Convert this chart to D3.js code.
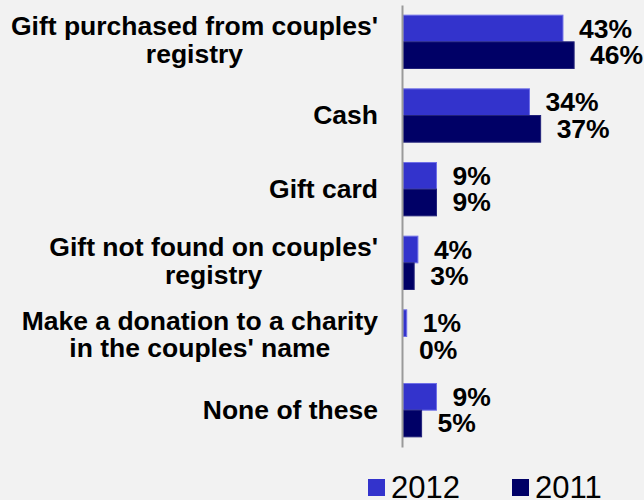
<!DOCTYPE html>
<html>
<head>
<meta charset="utf-8">
<script src="https://cdn.jsdelivr.net/npm/d3@7"></script>
<style>
  html, body { margin: 0; padding: 0; background: #f2f2f2; }
  svg { display: block; }
  text { font-family: Arial, "Liberation Sans", sans-serif; fill: #000; }
</style>
</head>
<body>
<svg id="chart" width="644" height="500"></svg>
<script>
// Gift types, each label split into its display lines
const categories = [
  ["Gift purchased from couples'", "registry"],
  ["Cash"],
  ["Gift card"],
  ["Gift not found on couples'", "registry"],
  ["Make a donation to a charity", "in the couples' name"],
  ["None of these"]
];
const seriesNames = ["2012", "2011"];
const values2012 = [43, 34, 9, 4, 1, 9];
const values2011 = [46, 37, 9, 3, 0, 5];
const seriesColors = ["#3333cc", "#000066"];
const seriesStrokes = ["#6f6fe8", "#22227a"];

const svg = d3.select("#chart");
const keys = categories.map((c, i) => "c" + i);
const rows = keys.map((k, i) => ({ key: k, lines: categories[i], vals: [values2012[i], values2011[i]] }));

const x = d3.scaleLinear().domain([0, 50]).range([403, 589]);
const y = d3.scaleBand().domain(keys).range([5, 447]).paddingInner(0.276).paddingOuter(0.138);
const ySub = d3.scaleBand().domain(seriesNames).range([0, y.bandwidth()]);

// bars
const groups = svg.append("g").selectAll("g").data(rows).join("g")
  .attr("transform", d => `translate(0,${y(d.key)})`);

groups.selectAll("rect").data(d => d.vals.map((v, j) => ({ v, j })))
  .join("rect")
  .attr("x", x(0))
  .attr("y", d => ySub(seriesNames[d.j]))
  .attr("width", d => x(d.v) - x(0))
  .attr("height", ySub.bandwidth())
  .attr("fill", d => seriesColors[d.j])
  .attr("stroke", d => d.v > 0 ? seriesStrokes[d.j] : "none")
  .attr("stroke-width", 1);

// value labels
groups.selectAll("text.val").data(d => d.vals.map((v, j) => ({ v, j })))
  .join("text")
  .attr("class", "val")
  .attr("x", d => x(d.v) + 16)
  .attr("y", d => ySub(seriesNames[d.j]) + ySub.bandwidth() / 2 + 9)
  .attr("font-size", 26.5)
  .attr("font-weight", "bold")
  .text(d => d.v + "%");

// vertical category axis
const axis = d3.axisLeft(y).tickSize(0).tickSizeOuter(0).tickFormat("");
const axisG = svg.append("g").attr("transform", `translate(${x(0) - 1},0)`).call(axis);
axisG.select(".domain").attr("stroke", "#9a9a9a").attr("stroke-width", 2);

// category labels, each block right-aligned with centred lines
const lineH = 27.6;
const labelRight = 378;
const labels = svg.append("g");
rows.forEach(r => {
  const cy = y(r.key) + y.bandwidth() / 2;
  const n = r.lines.length;
  const g = labels.append("g");
  const ts = r.lines.map((ln, i) => g.append("text")
    .attr("y", cy + (n === 1 ? 8.5 : 7) + (i - (n - 1) / 2) * lineH)
    .attr("font-size", 26.5)
    .attr("font-weight", "bold")
    .attr("text-anchor", "middle")
    .text(ln));
  const maxW = d3.max(ts, t => t.node().getComputedTextLength());
  ts.forEach(t => t.attr("x", labelRight - maxW / 2));
});

// legend
const legendX = [368, 512];
const legend = svg.append("g");
seriesNames.forEach((s, j) => {
  legend.append("rect")
    .attr("x", legendX[j]).attr("y", 479)
    .attr("width", 17).attr("height", 17)
    .attr("fill", seriesColors[j]);
  legend.append("text")
    .attr("x", legendX[j] + 23).attr("y", 498)
    .attr("font-size", 31)
    .text(s);
});
</script>
</body>
</html>
